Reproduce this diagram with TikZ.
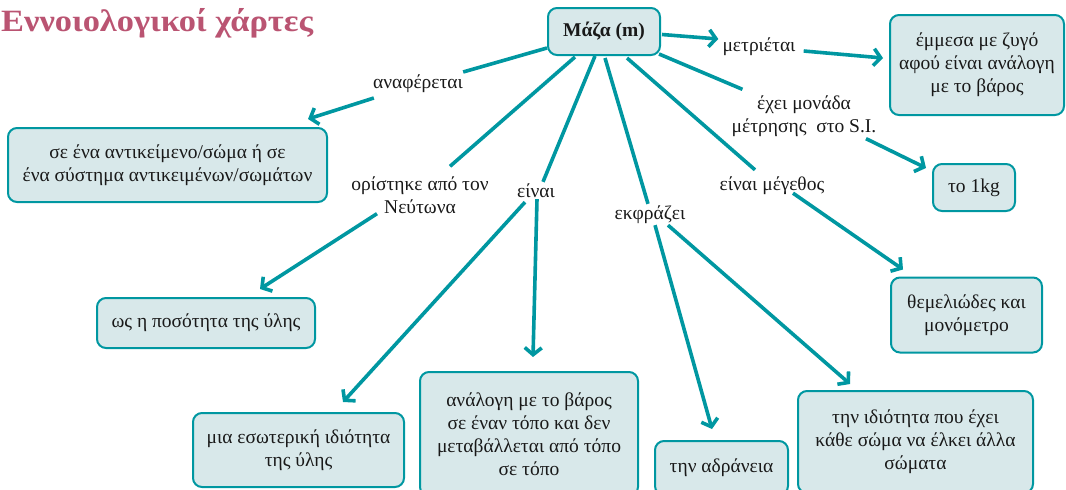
\documentclass[tikz,border=0pt]{standalone}
\usepackage{fontspec}
\setmainfont{Liberation Serif}
\newfontfamily\titlefamily[FakeStretch=1.11]{Liberation Serif}
\usetikzlibrary{arrows.meta,calc}
\definecolor{tealc}{RGB}{0,151,161}
\definecolor{boxfill}{RGB}{216,232,234}
\definecolor{titlec}{RGB}{186,84,114}
\definecolor{txtc}{RGB}{25,25,25}
\newcommand{\bodyfnt}{\fontsize{19.5}{23}\selectfont}
\newcommand{\titlefnt}{\titlefamily\fontsize{31}{36}\selectfont\bfseries}
\begin{document}
\begin{tikzpicture}[x=1pt,y=-1pt,
  box/.style={draw=tealc, line width=2pt, fill=boxfill, rounded corners=9pt,
    align=center, inner sep=0pt, font=\bodyfnt, text=txtc},
  lbl/.style={align=center, inner sep=2pt, font=\bodyfnt, text=txtc},
  conn/.style={draw=tealc, line width=3.6pt},
  arr/.style={conn, -{Straight Barb[length=7pt,width=17pt]}}]
\useasboundingbox (0,0) rectangle (1066,490);
\clip (0,0) rectangle (1066,490);
% title
\node[anchor=base west, inner sep=0pt, font=\titlefnt, text=titlec] (title) at (1,31) {Εννοιολογικοί χάρτες};
% boxes
\node[box, minimum width=112pt, minimum height=47pt, font=\bodyfnt\bfseries] (mass) at (604,31.5) {Μάζα (m)};
\node[box, minimum width=174pt, minimum height=100pt] (emm) at (977,65) {έμμεσα με ζυγό\\αφού είναι ανάλογη\\με το βάρος};
\node[box, minimum width=82pt, minimum height=47pt] (kg) at (974,187.5) {το 1kg};
\node[box, minimum width=151pt, minimum height=75pt] (them) at (966.5,315) {θεμελιώδες και\\μονόμετρο};
\node[box, minimum width=235pt, minimum height=102pt] (idiot) at (915.5,442) {την ιδιότητα που έχει\\κάθε σώμα να έλκει άλλα\\σώματα};
\node[box, minimum width=133pt, minimum height=54pt] (adr) at (721.5,468) {την αδράνεια};
\node[box, minimum width=218pt, minimum height=124pt] (anal) at (529,434) {ανάλογη με το βάρος\\σε έναν τόπο και δεν\\μεταβάλλεται από τόπο\\σε τόπο};
\node[box, minimum width=211pt, minimum height=74pt] (mia) at (298.5,450) {μια εσωτερική ιδιότητα\\της ύλης};
\node[box, minimum width=218pt, minimum height=50pt] (ws) at (206,323) {ως η ποσότητα της ύλης};
\node[box, minimum width=319pt, minimum height=74pt] (se) at (167.5,165) {σε ένα αντικείμενο/σώμα ή σε\\ένα σύστημα αντικειμένων/σωμάτων};
% labels
\node[lbl] (metr) at (759,47) {μετριέται};
\node[lbl] (anaf) at (418,84) {αναφέρεται};
\node[lbl] (orist) at (420,195) {ορίστηκε από τον\\Νεύτωνα};
\node[lbl] (einai) at (536,191) {είναι};
\node[lbl] (ekfr) at (650,215) {εκφράζει};
\node[lbl] (megeth) at (772,186) {είναι μέγεθος};
\node[lbl] (monada) at (804,116) {έχει μονάδα\\μέτρησης\ \ στο S.I.};
% connectors
\draw[arr] ($(mass.east)+(1,3)$) -- ($(metr.west)+(-2,-8)$);
\draw[arr] ($(metr.east)+(6,4)$) -- ($(emm.west)+(-6,-7)$);
\draw[conn] ($(mass.west)+(0,16.5)$) -- ($(anaf.east)+(-2,-12)$);
\draw[arr] ($(anaf.west)+(3,14)$) -- ($(se.north east)+(-20,-8)$);
\draw[conn] ($(mass.south)+(-29,1)$) -- ($(orist.north)+(30,-8)$);
\draw[arr] ($(orist.south)+(-43,-2)$) -- ($(ws.north)+(54,-8)$);
\draw[conn] ($(mass.south)+(-9,0)$) -- ($(einai.north)+(7,0)$);
\draw[arr] ($(einai.south)+(-11,2)$) -- ($(mia.north)+(44.5,-10)$);
\draw[arr] ($(einai.south)+(1,-1)$) -- ($(anal.north)+(4,-14)$);
\draw[conn] ($(mass.south)+(1,2)$) -- ($(ekfr.north)+(-2,0)$);
\draw[arr] ($(ekfr.south)+(5,-1)$) -- ($(adr.north)+(-9.5,-11)$);
\draw[arr] ($(ekfr.south)+(18,-1)$) -- ($(idiot.north)+(-65.5,-6)$);
\draw[conn] ($(mass.south)+(23,2)$) -- ($(megeth.north)+(-17,-5)$);
\draw[arr] ($(megeth.south)+(21,-4)$) -- ($(them.north)+(-63.5,-7)$);
\draw[conn] ($(mass.south east)+(-2,-2)$) -- ($(monada.north west)+(13,-4)$);
\draw[arr] ($(monada.south)+(62,0)$) -- ($(kg.north west)+(-6,5)$);
\end{tikzpicture}
\end{document}
